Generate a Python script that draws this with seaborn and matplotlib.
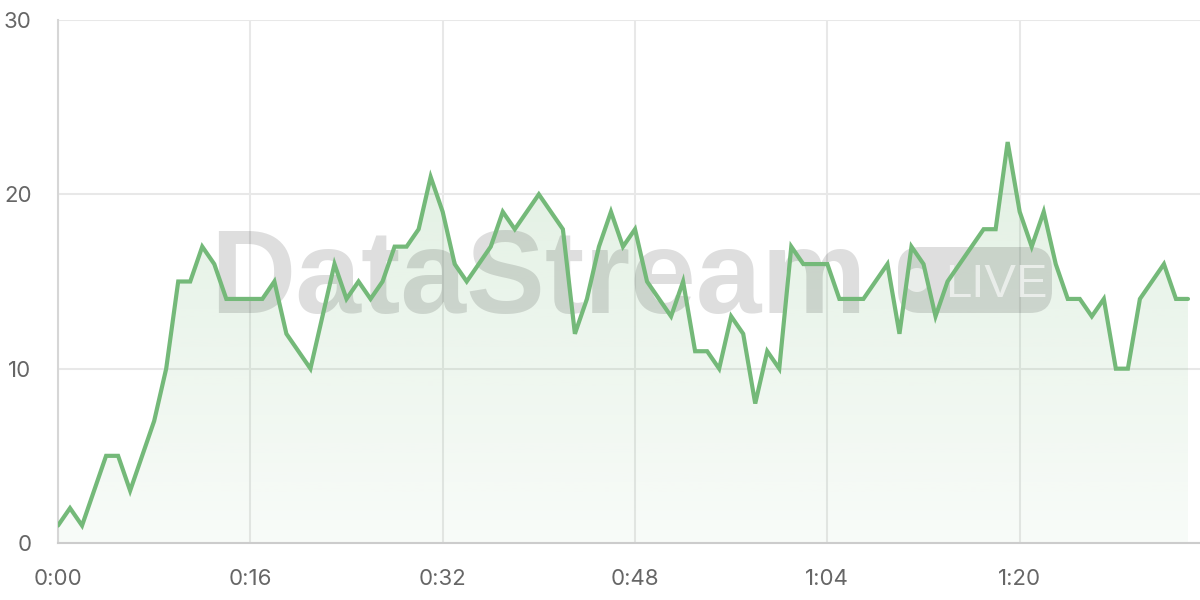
import numpy as np
import pandas as pd
import seaborn as sns
import matplotlib.pyplot as plt
from matplotlib.patches import FancyBboxPatch, Circle
from matplotlib.ticker import FuncFormatter
from matplotlib.transforms import IdentityTransform

# one sample per second
seconds = list(range(95))
values = [1, 2, 1, 3, 5, 5, 3, 5, 7, 10,
          15, 15, 17, 16, 14, 14, 14, 14, 15, 12,
          11, 10, 13, 16, 14, 15, 14, 15, 17, 17,
          18, 21, 19, 16, 15, 16, 17, 19, 18, 19,
          20, 19, 18, 12, 14, 17, 19, 17, 18, 15,
          14, 13, 15, 11, 11, 10, 13, 12, 8, 11,
          10, 17, 16, 16, 16, 14, 14, 14, 15, 16,
          12, 17, 16, 13, 15, 16, 17, 18, 18, 23,
          19, 17, 19, 16, 14, 14, 13, 14, 10, 10,
          14, 15, 16, 14, 14]
x_ticks = [0, 16, 32, 48, 64, 80]
y_ticks = [0, 10, 20, 30]

line_color = "#74b979"
grid_color = "#e8e8e8"
label_color = "#666666"

df = pd.DataFrame({"t": seconds, "v": values})

sns.set_theme(style="whitegrid")
plt.rcParams["font.family"] = ["Inter", "DejaVu Sans"]

fig = plt.figure(figsize=(12, 6), dpi=100)
ax = fig.add_axes([58 / 1200, 57 / 600, 1142 / 1200, 523 / 600])
ax.set_facecolor("white")

# gradient fill under the line
poly = ax.fill_between(df["t"], df["v"], 0, color="none", lw=0)
grad = np.zeros((256, 1, 4))
rgb = plt.matplotlib.colors.to_rgb(line_color)
grad[:, 0, :3] = rgb
grad[:, 0, 3] = np.linspace(0.22, 0.05, 256)
top = 24
img = ax.imshow(grad, extent=[0, max(seconds), 0, top], aspect="auto",
                origin="upper", zorder=1)
path = poly.get_paths()[0]
img.set_clip_path(path, transform=ax.transData)

sns.lineplot(data=df, x="t", y="v", ax=ax, color=line_color, lw=3,
             zorder=4, solid_joinstyle="miter")

# watermark (under the line)
ax.text(210 / 1200, 1 - 313 / 600, "DataStream", transform=fig.transFigure,
        fontsize=85, fontweight="bold", family="Liberation Sans",
        color="black", alpha=0.13, va="baseline", ha="left", zorder=2,
        clip_on=False)
badge = FancyBboxPatch((898, 600 - 313), 154, 66,
                       boxstyle="round,pad=0,rounding_size=22",
                       transform=IdentityTransform(), facecolor="black",
                       edgecolor="none", alpha=0.13, zorder=2, clip_on=False)
ax.add_artist(badge)
dot = Circle((917, 600 - 280), 12, transform=IdentityTransform(),
             facecolor="white", edgecolor="none", alpha=0.6, zorder=2.5,
             clip_on=False)
ax.add_artist(dot)
ax.text(945 / 1200, 1 - 297 / 600, "LIVE", transform=fig.transFigure,
        fontsize=34, family="Liberation Sans", color="white", alpha=0.6,
        va="baseline", ha="left", zorder=2.5, clip_on=False)

ax.set_xlim(0, 95)
ax.set_ylim(0, 30)
ax.set_xticks(x_ticks)
ax.set_yticks(y_ticks)
ax.xaxis.set_major_formatter(FuncFormatter(lambda v, p: f"{int(v) // 60}:{int(v) % 60:02d}"))
ax.set_xlabel("")
ax.set_ylabel("")

ax.grid(True, color=grid_color, lw=1.5)
ax.tick_params(axis="both", length=11, width=1.5, color=grid_color,
               labelcolor=label_color, labelsize=16, pad=8)
for side in ["top", "right"]:
    ax.spines[side].set_visible(False)
ax.spines["left"].set_color("#d6d6d6")
ax.spines["bottom"].set_color("#cccccc")
ax.spines["left"].set_linewidth(1.5)
ax.spines["bottom"].set_linewidth(1.5)

fig.savefig("out.png", dpi=100)
